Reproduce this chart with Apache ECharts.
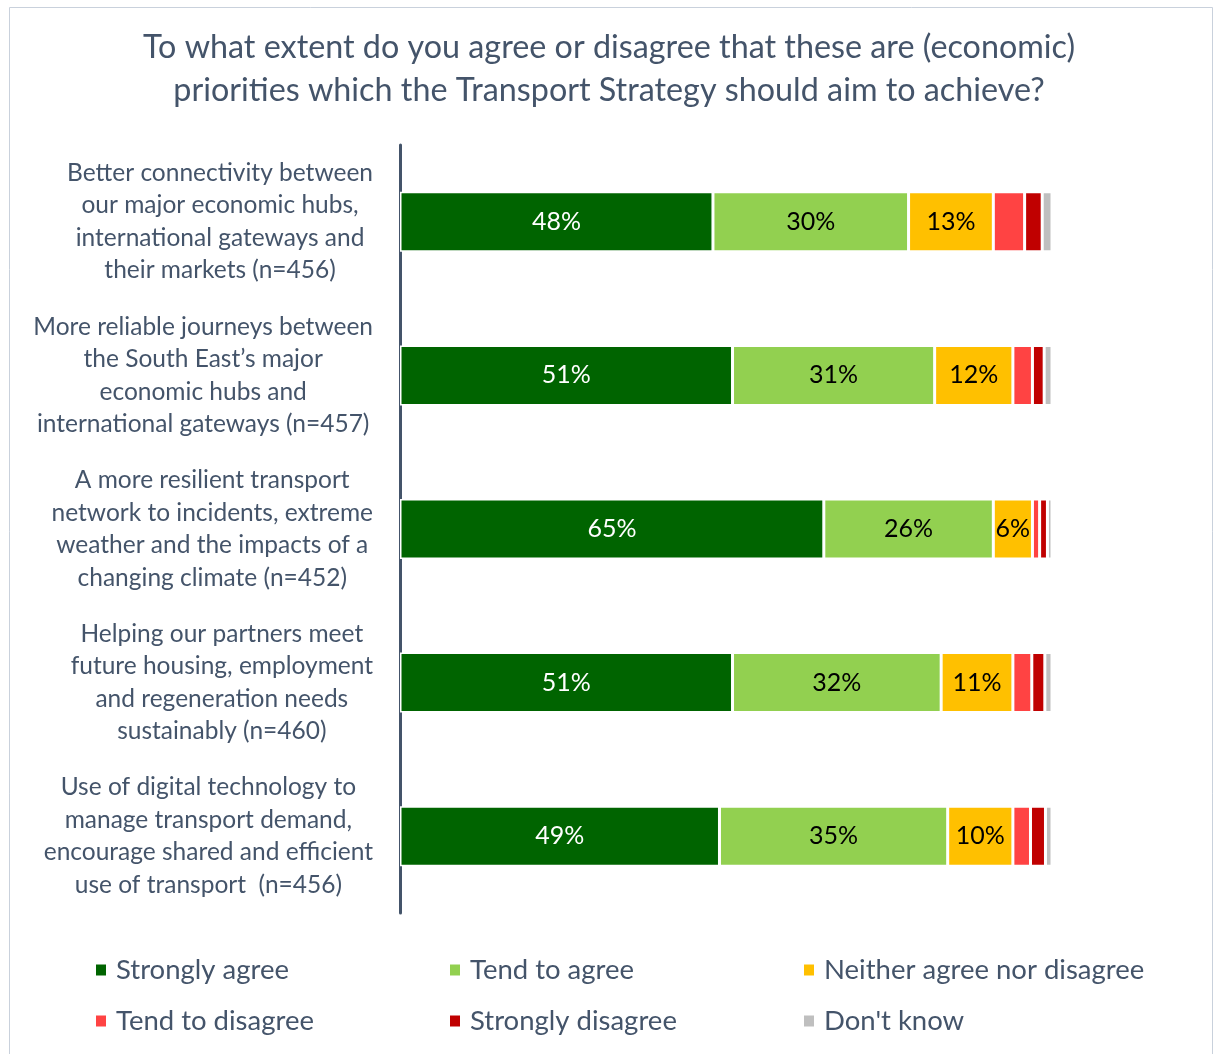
<!DOCTYPE html>
<html>
<head>
<meta charset="utf-8">
<script src="https://cdn.jsdelivr.net/npm/echarts@6/dist/echarts.min.js"></script>
<style>
  html, body { margin: 0; padding: 0; background: #ffffff; }
  #chart { width: 1218px; height: 1054px; }
</style>
</head>
<body>
<div id="chart"></div>
<script>
// Survey statements (top to bottom)
const categories = [
  'Better connectivity between\nour major economic hubs,\ninternational gateways and\ntheir markets (n=456)',
  'More reliable journeys between\nthe South East\u2019s major\neconomic hubs and\ninternational gateways (n=457)',
  'A more resilient transport\nnetwork to incidents, extreme\nweather and the impacts of a\nchanging climate (n=452)',
  'Helping our partners meet\nfuture housing, employment\nand regeneration needs\nsustainably (n=460)',
  'Use of digital technology to\nmanage transport demand,\nencourage shared and efficient\nuse of transport  (n=456)'
];

// Response shares (%) per statement
const stronglyAgree    = [48, 51, 65, 51, 49];
const tendToAgree      = [30, 31, 26, 32, 35];
const neither          = [13, 12, 6, 11, 10];
const tendToDisagree   = [4.8, 3.0, 1.1, 2.9, 2.7];
const stronglyDisagree = [2.7, 1.8, 1.2, 2.0, 2.3];
const dontKnow         = [1.5, 1.2, 0.7, 1.1, 1.0];

const seriesNames = ['Strongly agree', 'Tend to agree', 'Neither agree nor disagree',
                     'Tend to disagree', 'Strongly disagree', "Don't know"];
const seriesValues = [stronglyAgree, tendToAgree, neither, tendToDisagree, stronglyDisagree, dontKnow];
const seriesColors = ['#006400', '#92D050', '#FFC000', '#FF4343', '#C00000', '#BFBFBF'];
const labelColors  = ['#ffffff', '#000000', '#000000', null, null, null];

const FONT = 'Lato, "Open Sans", sans-serif';
const TEXT = '#44546A';

const chart = echarts.init(document.getElementById('chart'));

const series = seriesNames.map((name, i) => ({
  name: name,
  type: 'bar',
  stack: 'total',
  barWidth: 60,
  data: seriesValues[i],
  itemStyle: { color: seriesColors[i], borderColor: '#ffffff', borderWidth: 1.5 },
  label: labelColors[i] ? {
    show: true,
    position: 'inside',
    formatter: '{c}%',
    color: labelColors[i],
    fontFamily: FONT,
    fontSize: 25
  } : { show: false },
  emphasis: { disabled: true }
}));

chart.setOption({
  animation: false,
  backgroundColor: '#ffffff',
  title: {
    text: 'To what extent do you agree or disagree that these are (economic)\npriorities which the Transport Strategy should aim to achieve?',
    left: 'center',
    top: 21,
    textStyle: {
      fontFamily: FONT,
      fontSize: 32.3,
      fontWeight: 'normal',
      color: TEXT,
      lineHeight: 43,
      align: 'center'
    }
  },
  graphic: [{
    type: 'rect',
    shape: { x: 9.5, y: 7.5, width: 1203, height: 1060 },
    style: { fill: 'none', stroke: '#C9D1DC', lineWidth: 1 },
    silent: true,
    z: -1
  }],
  legend: {
    data: seriesNames,
    left: 89,
    top: 942,
    width: 1100,
    orient: 'horizontal',
    icon: 'rect',
    itemWidth: 12,
    itemHeight: 13,
    itemGap: 5,
    textStyle: {
      fontFamily: FONT,
      fontSize: 27.5,
      color: TEXT,
      width: 327,
      lineHeight: 46,
      padding: [0, 0, 0, 4]
    }
  },
  grid: { left: 400, right: 166, top: 145, bottom: 141, containLabel: false },
  xAxis: {
    type: 'value',
    min: 0,
    max: 100,
    show: false
  },
  yAxis: {
    type: 'category',
    data: categories,
    inverse: true,
    axisLine: { show: true, lineStyle: { color: '#44546A', width: 3 } },
    axisTick: { show: false },
    axisLabel: {
      margin: 27,
      align: 'right',
      formatter: function (value) {
        return value.split('\n').map(l => '{c|' + l + '}').join('\n');
      },
      rich: {
        c: {
          align: 'center',
          fontFamily: FONT,
          fontSize: 24.5,
          color: TEXT,
          lineHeight: 32.5
        }
      }
    }
  },
  series: series
});
</script>
</body>
</html>
